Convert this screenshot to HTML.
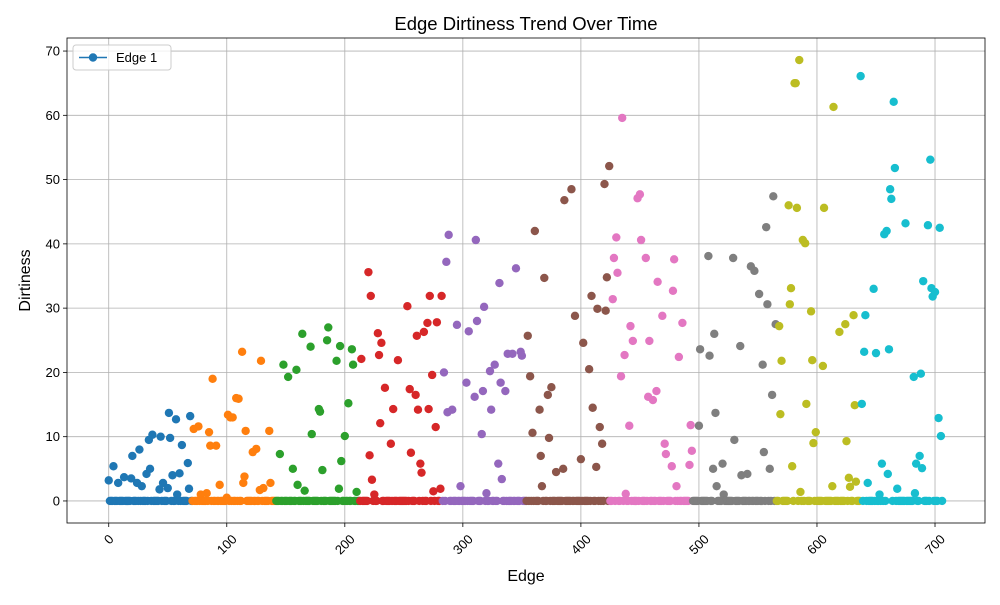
<!DOCTYPE html>
<html><head><meta charset="utf-8"><style>
body{margin:0;background:#fff;font-family:"Liberation Sans","DejaVu Sans",sans-serif}
svg text{font-family:"Liberation Sans","DejaVu Sans",sans-serif}
</style></head><body>
<svg id="chart" width="1000" height="600" xmlns="http://www.w3.org/2000/svg"></svg>
<script>
const edgeCount = 707;
const edgeIds = [0,4,8,13,19,20,26,24,28,32,35,34,37,44,46,51,52,57,62,62,52,46,43,50,54,60,67,69,68,58,
72,72,76,78,85,88,86,91,94,94,101,103,108,110,113,105,116,115,114,122,122,122,125,129,128,131,136,137,83,100,
145,145,148,152,156,159,160,164,166,171,172,178,179,181,185,186,193,196,197,200,196,203,203,206,207,210,195,
214,220,222,221,223,225,228,229,231,230,234,239,241,245,253,255,256,260,261,262,264,265,267,270,272,271,274,277,278,282,275,281,
284,286,288,287,291,295,298,303,305,310,311,312,316,317,318,320,323,324,327,330,331,332,333,336,338,342,345,349,350,333,
355,357,359,361,365,366,367,369,372,373,375,379,385,386,392,395,400,402,407,409,410,413,414,416,418,420,421,422,424,
428,427,430,431,434,435,437,438,441,442,444,448,450,451,455,457,458,461,464,465,469,471,472,477,478,479,481,483,486,493,492,494,
500,501,508,509,512,513,514,515,520,521,529,530,535,536,541,544,547,551,554,555,557,558,560,563,562,565,
568,569,570,576,578,577,579,581,582,583,585,586,588,590,591,595,596,597,599,605,606,613,614,619,624,625,627,628,631,632,633,
637,638,641,640,643,648,650,653,655,657,659,660,661,662,663,665,666,668,675,682,683,684,688,687,689,690,696,694,697,698,700,703,704,705];
const dirtValues = [3.2,5.4,2.8,3.7,3.5,7,8,2.8,2.3,4.2,5,9.5,10.3,10,6.5,13.7,14,12.7,11.3,8.7,9.8,2.8,1.8,2,4,4.3,5.9,13.2,1.9,1,
3.2,11.2,11.6,1,10.7,19,8.6,8.6,11,2.5,13.4,13,16,15.9,23.2,13,10.9,3.8,2.8,18.2,17,7.6,8.1,21.8,1.7,2,10.9,2.8,1.2,0.5,
1.5,7.3,21.2,19.3,5,20.4,2.5,26,1.6,24,10.4,14.3,13.9,4.8,25,27,21.8,10.7,6.2,10.1,24.1,25.8,15.2,23.6,21.2,1.4,1.9,
22.1,35.6,31.9,7.1,3.3,1,26.1,22.7,24.6,12.1,17.6,8.9,14.3,21.9,30.3,17.4,7.5,16.5,25.7,14.2,5.8,4.4,26.3,27.7,31.9,14.3,19.6,11.5,27.8,31.9,1.5,1.9,
20,37.2,41.4,13.8,14.2,27.4,2.3,18.4,26.4,16.2,40.6,28,10.4,17.1,30.2,1.2,20.2,14.2,21.2,5.8,33.9,18.4,15.9,17.1,22.9,22.9,36.2,23.2,22.6,3.4,
25.7,19.4,10.6,42,14.2,7,2.3,34.7,16.5,9.8,17.7,4.5,5,46.8,48.5,28.8,6.5,24.6,20.5,31.9,14.5,5.3,29.9,11.5,8.9,49.3,29.6,34.8,52.1,
37.8,31.4,41,35.5,19.4,59.6,22.7,1.1,11.7,27.2,24.9,47.1,47.7,40.6,37.8,16.2,24.9,15.7,17.1,34.1,28.8,8.9,7.3,5.4,32.7,37.6,2.3,22.4,27.7,11.8,5.6,7.8,
11.7,23.6,38.1,22.6,5,26,13.7,2.3,5.8,1,37.8,9.5,24.1,4,4.2,36.5,35.8,32.2,21.2,7.6,42.6,30.6,5,47.4,16.5,27.5,
27.2,13.5,21.8,46,33.1,30.6,5.4,65,65,45.6,68.6,1.4,40.6,40.1,15.1,29.5,21.9,9,10.7,21,45.6,2.3,61.3,26.3,27.5,9.3,3.6,2.2,28.9,14.9,3,
66.1,15.1,28.9,23.2,2.8,33,23,1,5.8,41.5,42,4.2,23.6,48.5,47,62.1,51.8,1.9,43.2,19.3,1.2,5.8,19.8,7,5.1,34.2,53.1,42.9,33.1,31.8,32.5,12.9,42.5,10.1];
const xTicks = [0,100,200,300,400,500,600,700];
const yTicks = [0,10,20,30,40,50,60,70];
const colors = ['#1f77b4','#ff7f0e','#2ca02c','#d62728','#9467bd','#8c564b','#e377c2','#7f7f7f','#bcbd22','#17becf'];

const NS='http://www.w3.org/2000/svg';
const svg=document.getElementById('chart');
const L=67,R=985,T=38,B=523;
const xMin=-35.35,xMax=742.35,yMin=-3.43,yMax=72.03;
const xs=v=>L+(v-xMin)/(xMax-xMin)*(R-L);
const ys=v=>B-(v-yMin)/(yMax-yMin)*(B-T);
function mk(tag,attrs,parent){const e=document.createElementNS(NS,tag);for(const k in attrs)e.setAttribute(k,attrs[k]);(parent||svg).appendChild(e);return e;}

const grid=mk('g',{});


xTicks.forEach(t=>{
  mk('line',{x1:xs(t),x2:xs(t),y1:T,y2:B,stroke:'#b0b0b0','stroke-width':0.8},grid);
  mk('line',{x1:xs(t),x2:xs(t),y1:B,y2:B+4,stroke:'#000','stroke-width':0.8});
  const s=String(t);
  const w=s.length*7.4;
  const cy=B+9+(w+13)*0.707/2;
  const tx=mk('text',{x:0,y:0,'font-size':13,'text-anchor':'middle','dominant-baseline':'central',transform:`translate(${xs(t)},${cy}) rotate(-45)`,fill:'#000'});
  
  
  tx.textContent=s;
});
yTicks.forEach(t=>{
  mk('line',{x1:L,x2:R,y1:ys(t),y2:ys(t),stroke:'#b0b0b0','stroke-width':0.8},grid);
  mk('line',{x1:L-4,x2:L,y1:ys(t),y2:ys(t),stroke:'#000','stroke-width':0.8});
  const tx=mk('text',{x:L-7,y:ys(t)+4.5,'font-size':13,'text-anchor':'end',fill:'#000'});
  
  
  tx.textContent=t;
});

const vals=new Array(edgeCount).fill(0);
edgeIds.forEach((id,k)=>{vals[id]=dirtValues[k];});
const pts=mk('g',{});


for(let i=0;i<edgeCount;i++){
  const c=colors[Math.min(9,Math.floor(i/(edgeCount/10)))];
  const p=mk('circle',{cx:xs(i),cy:ys(vals[i]),r:4.2,fill:c},pts);
  
  
}
const frame=mk('rect',{x:L,y:T,width:R-L,height:B-T,fill:'none',stroke:'#000','stroke-width':0.8});



const title=mk('text',{x:(L+R)/2,y:30,'font-size':18.5,'text-anchor':'middle'});


title.textContent='Edge Dirtiness Trend Over Time';
const xl=mk('text',{x:(L+R)/2,y:581,'font-size':16,'text-anchor':'middle'});


xl.textContent='Edge';
const yl=mk('text',{x:0,y:0,'font-size':16,'text-anchor':'middle',transform:`translate(30,${(T+B)/2}) rotate(-90)`});


yl.textContent='Dirtiness';

const lg=mk('g',{});


mk('rect',{x:73,y:45,width:98,height:25,rx:3,fill:'#fff','fill-opacity':0.8,stroke:'#ccc'},lg);
mk('line',{x1:79,x2:107,y1:57.5,y2:57.5,stroke:'#1f77b4','stroke-width':1.5},lg);
mk('circle',{cx:93,cy:57.5,r:4.2,fill:'#1f77b4'},lg);
const lt=mk('text',{x:116,y:62,'font-size':13},lg);


lt.textContent='Edge 1';
</script>
</body></html>
